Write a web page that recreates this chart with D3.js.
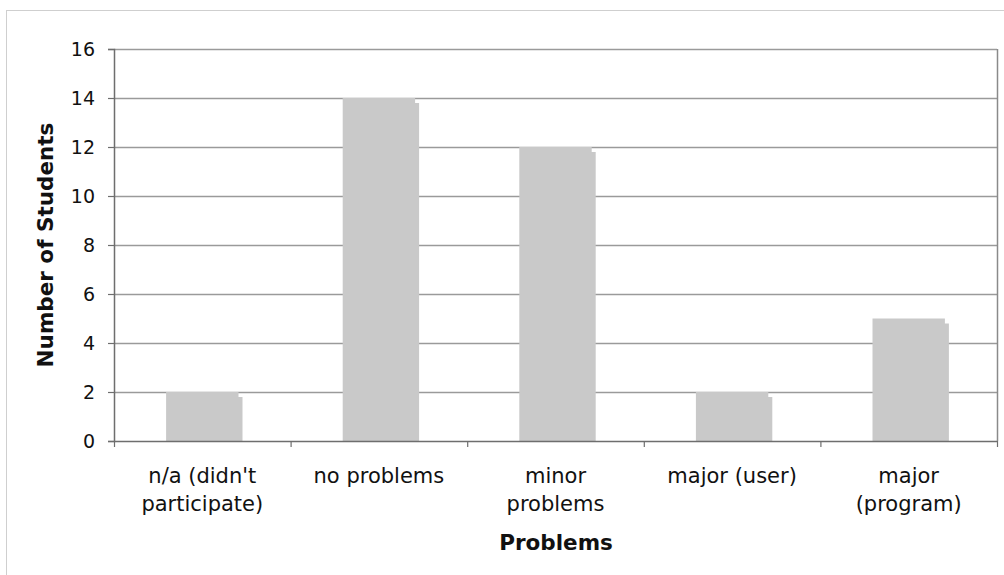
<!DOCTYPE html>
<html>
<head>
<meta charset="utf-8">
<script src="https://cdn.jsdelivr.net/npm/d3@7"></script>
<style>
  html, body { margin: 0; padding: 0; background: #fff; }
  svg { display: block; }
  text { font-family: "DejaVu Sans", Verdana, sans-serif; fill: #111; }
</style>
</head>
<body>
<svg id="chart" width="1004" height="575"></svg>
<script>
// Responses grouped by kind of problem reported
const categories = [
  ["n/a (didn't", "participate)"],
  ["no problems"],
  ["minor", "problems"],
  ["major (user)"],
  ["major", "(program)"]
];
const students = [2, 14, 12, 2, 5];
const yTicks = [0, 2, 4, 6, 8, 10, 12, 14, 16];

const svg = d3.select("#chart");
const m = { left: 114, right: 997, top: 49, bottom: 441 };

// outer frame
svg.append("rect")
  .attr("x", 6.5).attr("y", 10.5)
  .attr("width", 1010).attr("height", 580)
  .attr("fill", "none").attr("stroke", "#cfcfcf").attr("stroke-width", 1);

const keys = d3.range(categories.length);
const x = d3.scaleBand().domain(keys).range([m.left, m.right]).paddingInner(0).paddingOuter(0);
const y = d3.scaleLinear().domain([0, 16]).range([m.bottom, m.top]);

// horizontal gridlines
svg.append("g")
  .selectAll("line")
  .data(yTicks.filter(t => t > 0))
  .join("line")
  .attr("x1", m.left).attr("x2", m.right)
  .attr("y1", d => Math.round(y(d)) + 0.5).attr("y2", d => Math.round(y(d)) + 0.5)
  .attr("stroke", "#9a9a9a").attr("stroke-width", 1.3);

// right border of the plot area
svg.append("line")
  .attr("x1", m.right + 0.5).attr("x2", m.right + 0.5)
  .attr("y1", m.top).attr("y2", m.bottom)
  .attr("stroke", "#8a8a8a").attr("stroke-width", 1.5);

// bars: main face plus a narrow, slightly lower shade strip on the right
const barW = x.bandwidth() * 0.41;
const strip = 4;
const bars = svg.append("g");
bars.selectAll("rect.shade")
  .data(students)
  .join("rect")
  .attr("class", "shade")
  .attr("x", (d, i) => x(i) + (x.bandwidth() - barW) / 2 + barW - 1)
  .attr("width", strip + 1)
  .attr("y", d => y(d) + 5)
  .attr("height", d => m.bottom - y(d) - 5)
  .attr("fill", "#c9c9c9");
bars.selectAll("rect.face")
  .data(students)
  .join("rect")
  .attr("class", "face")
  .attr("x", (d, i) => x(i) + (x.bandwidth() - barW) / 2)
  .attr("width", barW)
  .attr("y", d => y(d))
  .attr("height", d => m.bottom - y(d))
  .attr("fill", "#c9c9c9");

// y axis
const yAxis = d3.axisLeft(y).tickValues(yTicks).tickSize(6).tickPadding(13).tickFormat(d3.format("d"));
const gy = svg.append("g").attr("transform", `translate(${m.left},0)`).call(yAxis);
gy.attr("font-size", null).attr("font-family", null);
gy.select(".domain").attr("stroke", "#6e6e6e").attr("stroke-width", 1.5);
gy.selectAll(".tick line").attr("stroke", "#6e6e6e").attr("stroke-width", 1.2);
gy.selectAll(".tick text").style("font-size", "19px").attr("fill", "#111");

// x axis: ticks at category boundaries
const gx = svg.append("g");
gx.append("line")
  .attr("x1", m.left).attr("x2", m.right)
  .attr("y1", m.bottom + 0.5).attr("y2", m.bottom + 0.5)
  .attr("stroke", "#6e6e6e").attr("stroke-width", 1.6);
gx.selectAll("line.tk")
  .data(keys.concat([categories.length]))
  .join("line")
  .attr("class", "tk")
  .attr("x1", d => (d < categories.length ? x(d) : m.right) + 0.5)
  .attr("x2", d => (d < categories.length ? x(d) : m.right) + 0.5)
  .attr("y1", m.bottom).attr("y2", m.bottom + 6)
  .attr("stroke", "#6e6e6e").attr("stroke-width", 1.2);

const labels = svg.append("g").attr("text-anchor", "middle").style("font-size", "21px");
categories.forEach((lines, i) => {
  const cx = x(i) + x.bandwidth() / 2;
  const t = labels.append("text").attr("x", cx).attr("y", 483);
  lines.forEach((s, j) => {
    t.append("tspan")
      .attr("x", cx)
      .attr("dy", j === 0 ? 0 : 28)
      .text(s);
  });
});

// axis titles
svg.append("text")
  .attr("x", 556).attr("y", 550)
  .attr("text-anchor", "middle")
  .style("font-size", "21.5px").style("font-weight", "bold")
  .text("Problems");

svg.append("text")
  .attr("transform", `translate(53,${(m.top + m.bottom) / 2}) rotate(-90)`)
  .attr("text-anchor", "middle")
  .style("font-size", "21.5px").style("font-weight", "bold")
  .text("Number of Students");
</script>
</body>
</html>
